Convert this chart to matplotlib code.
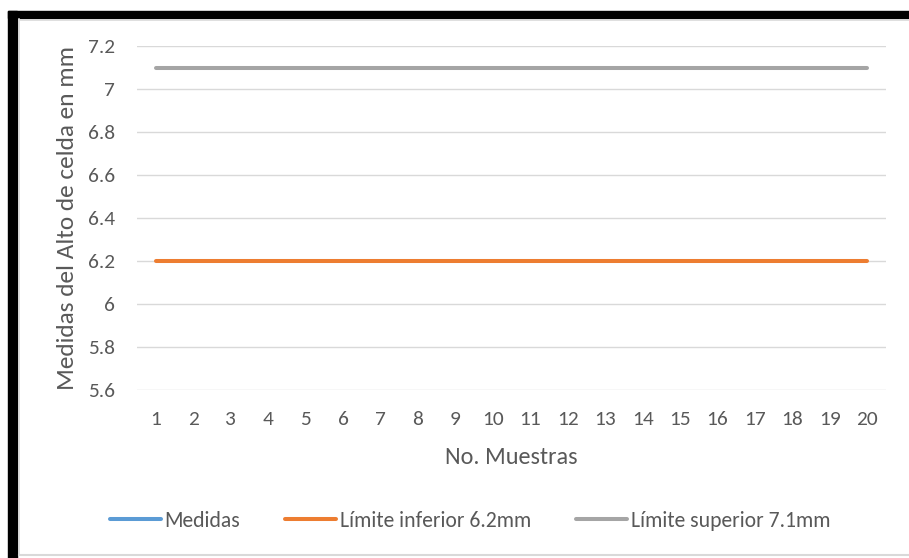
import numpy as np
import matplotlib.pyplot as plt
from matplotlib.lines import Line2D
from matplotlib.patches import Rectangle

muestras = list(range(1, 21))
medidas = [np.nan] * 20
limite_inferior = [6.2] * 20
limite_superior = [7.1] * 20
y_ticks = [5.6, 5.8, 6.0, 6.2, 6.4, 6.6, 6.8, 7.0, 7.2]
y_labels = ["5.6", "5.8", "6", "6.2", "6.4", "6.6", "6.8", "7", "7.2"]

plt.rcParams['font.family'] = ['Carlito', 'DejaVu Sans']
W, H = 909, 558
fig = plt.figure(figsize=(W / 100, H / 100), dpi=100)

# frame around the chart: thick black on the left and top, thin grey inside
fig.patches.append(Rectangle((8 / W, 0), 9 / W, 1 - 11 / H, transform=fig.transFigure,
                             color='black', zorder=0))
fig.patches.append(Rectangle((8 / W, 1 - 18 / H), 1 - 8 / W, 7 / H, transform=fig.transFigure,
                             color='black', zorder=0))
fig.add_artist(Line2D([18.5 / W, 18.5 / W], [3 / H, 1 - 19 / H], color='#d9d9d9', lw=1.2))
fig.add_artist(Line2D([18.5 / W, 1], [1 - 19.5 / H, 1 - 19.5 / H], color='#d9d9d9', lw=1.2))
fig.add_artist(Line2D([18.5 / W, 1], [3 / H, 3 / H], color='#d9d9d9', lw=1.5))

x0, x1 = 137, 886
y_top, y_bot = 46, 390
ax = fig.add_axes([x0 / W, 1 - y_bot / H, (x1 - x0) / W, (y_bot - y_top) / H])

grey = '#595959'
ax.plot(muestras, medidas, color='#5B9BD5', lw=2.9, solid_capstyle='round', label='Medidas')
ax.plot(muestras, limite_inferior, color='#ED7D31', lw=2.9, solid_capstyle='round',
        label='Límite inferior 6.2mm')
ax.plot(muestras, limite_superior, color='#A5A5A5', lw=2.9, solid_capstyle='round',
        label='Límite superior 7.1mm')

ax.set_xlim(0.5, 20.5)
ax.set_ylim(5.6, 7.2)
ax.set_yticks(y_ticks)
ax.set_yticklabels(y_labels)
ax.set_xticks(muestras)
ax.grid(axis='y', color='#d9d9d9', lw=1)
ax.set_axisbelow(True)
for s in ax.spines.values():
    s.set_visible(False)
ax.tick_params(length=0, labelsize=15.4, colors=grey)
ax.tick_params(axis='x', pad=15)
ax.tick_params(axis='y', pad=16)
ax.set_xlabel('No. Muestras', fontsize=17.4, color=grey, labelpad=14)
ax.set_ylabel('Medidas del Alto de celda en mm', fontsize=18.3, color=grey, labelpad=7)

leg = ax.legend(loc='center', bbox_to_anchor=(470 / W, 1 - 521 / H),
                bbox_transform=fig.transFigure, ncol=3, frameon=False, fontsize=15.6,
                labelcolor=grey, handlelength=2.35, handletextpad=0.18, columnspacing=2.07,
                borderpad=0)

fig.savefig('out.png', dpi=100, facecolor='white')
